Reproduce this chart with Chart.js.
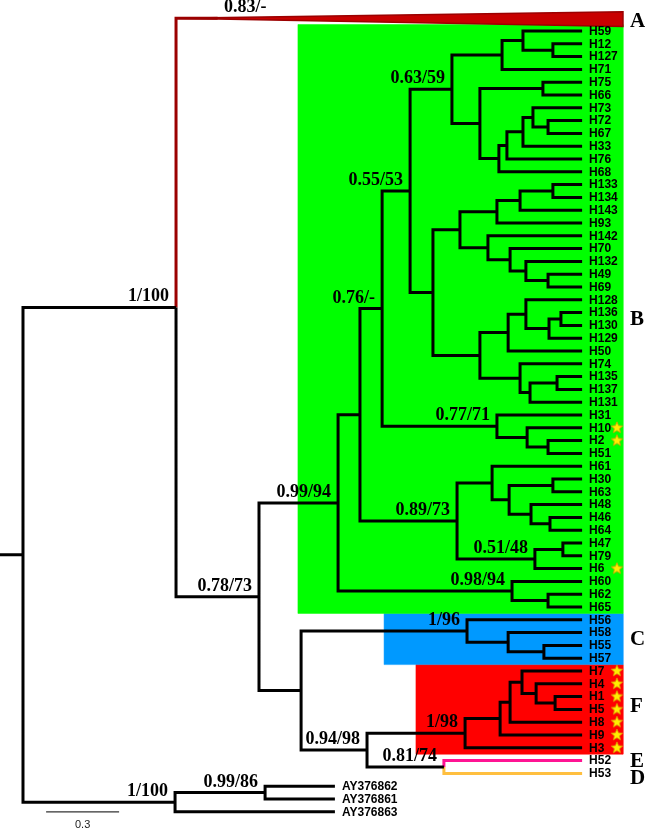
<!DOCTYPE html>
<html>
<head>
<meta charset="utf-8">
<script src="https://cdn.jsdelivr.net/npm/chart.js@4.4.1/dist/chart.umd.min.js"></script>
<style>
  body { margin: 0; background: #fff; }
  canvas { display: block; }
</style>
</head>
<body>
<canvas id="tree" width="645" height="830"></canvas>
<script>
// leaves top to bottom ("A" is the collapsed clade)
const leafNames = ["A", "H59", "H12", "H127", "H71", "H75", "H66", "H73", "H72", "H67", "H33", "H76", "H68",
  "H133", "H134", "H143", "H93", "H142", "H70", "H132", "H49", "H69", "H128", "H136", "H130", "H129", "H50",
  "H74", "H135", "H137", "H131", "H31", "H10", "H2", "H51", "H61", "H30", "H63", "H48", "H46", "H64",
  "H47", "H79", "H6", "H60", "H62", "H65", "H56", "H58", "H55", "H57", "H7", "H4", "H1", "H5", "H8", "H9",
  "H3", "H52", "H53", "AY376862", "AY376861", "AY376863"];

const tipDepth = 2.298;          // all H haplotypes
const outgroupTipDepth = 1.282;  // AY sequences
const cladeATipDepth = 0.80;     // start of collapsed clade A
const cladeAEndDepth = 2.466;

// [id, depth from root, child, child]
const nodes = [
  ["root", 0, "ingroup", "out"],
  ["ingroup", 0.629, "A", "n078"],
  ["n078", 0.970, "n099", "nCF"],
  ["n099", 1.295, "b360", "b512"],
  ["b360", 1.385, "b382", "b457"],
  ["b382", 1.476, "b410", "b497"],
  ["b410", 1.591, "b452", "b433"],
  ["b452", 1.763, "b502", "b480"],
  ["b502", 1.969, "b523", "H71"],
  ["b523", 2.055, "H59", "b553"],
  ["b553", 2.178, "H12", "H127"],
  ["b480", 1.878, "b543", "b499"],
  ["b543", 2.137, "H75", "H66"],
  ["b499", 1.956, "b507", "H68"],
  ["b507", 1.989, "b523b", "H76"],
  ["b523b", 2.055, "b533", "H33"],
  ["b533", 2.096, "H73", "b548"],
  ["b548", 2.158, "H72", "H67"],
  ["b433", 1.685, "b460", "b480b"],
  ["b460", 1.796, "b497b", "b488"],
  ["b497b", 1.948, "b520", "H93"],
  ["b520", 2.043, "b553b", "H143"],
  ["b553b", 2.178, "H133", "H134"],
  ["b488", 1.911, "H142", "b510"],
  ["b510", 2.002, "H70", "b526"],
  ["b526", 2.067, "H132", "b548b"],
  ["b548b", 2.158, "H49", "H69"],
  ["b480b", 1.878, "b508", "b520b"],
  ["b508", 1.994, "b526b", "H50"],
  ["b526b", 2.067, "H128", "b549"],
  ["b549", 2.162, "b561", "H129"],
  ["b561", 2.211, "H136", "H130"],
  ["b520b", 2.043, "H74", "b530"],
  ["b530", 2.084, "b557", "H131"],
  ["b557", 2.195, "H135", "H137"],
  ["b497", 1.948, "H31", "b527"],
  ["b527", 2.072, "H10", "b548c"],
  ["b548c", 2.158, "H2", "H51"],
  ["b457", 1.784, "b492", "b535"],
  ["b492", 1.928, "H61", "b509"],
  ["b509", 1.998, "b553c", "b531"],
  ["b553c", 2.178, "H30", "H63"],
  ["b531", 2.088, "H48", "b550"],
  ["b550", 2.166, "H46", "H64"],
  ["b535", 2.104, "b563", "H6"],
  ["b563", 2.219, "H47", "H79"],
  ["b512", 2.010, "H60", "b548d"],
  ["b548d", 2.158, "H62", "H65"],
  ["nCF", 1.143, "c467", "n367"],
  ["c467", 1.825, "H56", "c508"],
  ["c508", 1.994, "H58", "c544"],
  ["c544", 2.141, "H55", "H57"],
  ["n367", 1.414, "f465", "e444"],
  ["f465", 1.817, "f500", "H3"],
  ["f500", 1.961, "f510", "H9"],
  ["f510", 2.002, "f522", "H8"],
  ["f522", 2.051, "H7", "f536"],
  ["f536", 2.109, "H4", "f555"],
  ["f555", 2.187, "H1", "H5"],
  ["e444", 1.730, "H52", "H53"],
  ["out", 0.625, "o265", "AY376863"],
  ["o265", 0.995, "AY376862", "AY376861"]
];

// [posterior/bootstrap, node, optional anchor depth]
const supports = [
  ["0.83/-", "A", 1.03],
  ["1/100", "ingroup"], ["0.78/73", "n078"], ["0.99/94", "n099"],
  ["0.76/-", "b382"], ["0.55/53", "b410"], ["0.63/59", "b452"],
  ["0.77/71", "b497"], ["0.89/73", "b457"], ["0.51/48", "b535"],
  ["0.98/94", "b512"], ["1/96", "c467"], ["1/98", "f465"],
  ["0.94/98", "n367"], ["0.81/74", "e444"],
  ["1/100", "out"], ["0.99/86", "o265"]
];

// [colour, left depth, first leaf, last leaf]
const cladeBoxes = [
  ["#00ff00", 1.130, "H59", "H65"],
  ["#0099ff", 1.484, "H56", "H57"],
  ["#ff0000", 1.615, "H7", "H3"]
];
// [letter, first leaf, last leaf, row shift]
const cladeLetters = [
  ["A", "A", "A", 0.2], ["B", "H59", "H65", 0], ["C", "H56", "H57", 0],
  ["F", "H7", "H3", -0.3], ["E", "H52", "H52", 0], ["D", "H53", "H53", 0.3]
];
const branchColors = { A: "#9b0000", H52: "#ff1493", H53: "#ffbf3f" };
const starLeaves = ["H10", "H2", "H6", "H7", "H4", "H1", "H5", "H8", "H9", "H3"];
const starDepth = 2.441;
const scaleBar = { start: 0.095, length: 0.3, row: 62, label: "0.3" };

// ---- layout from the data ----
const nodeById = {};
nodes.forEach(n => { nodeById[n[0]] = n; });
const row = name => leafNames.indexOf(name);

function leafDepth(name) {
  if (name === "A") return cladeATipDepth;
  if (name.startsWith("AY")) return outgroupTipDepth;
  return tipDepth;
}

function place(id) {
  const n = nodeById[id];
  if (!n) return { x: leafDepth(id), y: row(id) };
  const a = place(n[2]), b = place(n[3]);
  return { x: n[1], y: (a.y + b.y) / 2 };
}

const xMin = -0.0945, xMax = 2.5565;
const blackPath = [], colorPaths = {};
const rootPos = place("root");
blackPath.push({ x: xMin, y: rootPos.y }, { x: 0, y: rootPos.y }, { x: 0, y: null });

nodes.forEach(n => {
  const p = place(n[0]);
  [n[2], n[3]].forEach(child => {
    const c = place(child);
    const seg = [{ x: p.x, y: p.y }, { x: p.x, y: c.y }, { x: c.x, y: c.y }, { x: c.x, y: null }];
    if (branchColors[child]) {
      (colorPaths[child] = colorPaths[child] || []).push(...seg);
    } else {
      blackPath.push(...seg);
    }
  });
});

function starImage(r) {
  const c = document.createElement("canvas");
  const s = Math.ceil(r * 2 + 2);
  c.width = c.height = s;
  const g = c.getContext("2d");
  g.beginPath();
  for (let i = 0; i < 10; i++) {
    const rad = i % 2 ? r * 0.45 : r;
    const a = -Math.PI / 2 + i * Math.PI / 5;
    g.lineTo(s / 2 + rad * Math.cos(a), s / 2 + rad * Math.sin(a));
  }
  g.closePath();
  g.fillStyle = "#ffee00";
  g.fill();
  g.strokeStyle = "#d99a00";
  g.lineWidth = 0.8;
  g.stroke();
  return c;
}

const datasets = [];
datasets.push({
  data: starLeaves.map(n => ({ x: starDepth, y: row(n) })),
  pointStyle: starImage(6), pointRadius: 5, showLine: false
});
datasets.push({
  data: blackPath, showLine: true, borderColor: "#000", borderWidth: 3,
  pointRadius: 0, borderJoinStyle: "miter", borderCapStyle: "butt", spanGaps: false
});
Object.keys(colorPaths).forEach(k => {
  datasets.push({
    data: colorPaths[k], showLine: true, borderColor: branchColors[k], borderWidth: 3,
    pointRadius: 0, borderJoinStyle: "miter", spanGaps: false
  });
});
datasets.push({
  data: [
    { x: scaleBar.start, y: scaleBar.row },
    { x: scaleBar.start + scaleBar.length, y: scaleBar.row }
  ],
  showLine: true, borderColor: "#333", borderWidth: 1.2, pointRadius: 0
});
// collapsed clade A wedge
const aRow = row("A");
datasets.push({
  data: [
    { x: place("ingroup").x, y: aRow },
    { x: cladeAEndDepth, y: aRow - 0.5 },
    { x: cladeAEndDepth, y: aRow + 0.65 },
    { x: place("ingroup").x, y: aRow }
  ],
  showLine: true, fill: "shape", backgroundColor: "#c80000", borderColor: "#9b0000",
  borderWidth: 1.5, pointRadius: 0, borderJoinStyle: "miter"
});
cladeBoxes.forEach(b => {
  const top = row(b[2]) - 0.5, bottom = row(b[3]) + 0.5;
  datasets.push({
    data: [
      { x: b[1], y: top }, { x: cladeAEndDepth, y: top },
      { x: cladeAEndDepth, y: bottom }, { x: b[1], y: bottom }, { x: b[1], y: top }
    ],
    showLine: true, fill: "shape", backgroundColor: b[0], borderColor: b[0],
    borderWidth: 0.5, pointRadius: 0
  });
});

const textPlugin = {
  id: "treeText",
  afterDatasetsDraw(chart) {
    const { ctx } = chart;
    const xs = chart.scales.x, ys = chart.scales.y;
    ctx.save();
    // tip labels
    ctx.font = "bold 12px 'Liberation Sans', Arial, sans-serif";
    ctx.fillStyle = "#000";
    ctx.textAlign = "left";
    ctx.textBaseline = "middle";
    leafNames.forEach(name => {
      if (name === "A") return;
      ctx.fillText(name, xs.getPixelForValue(leafDepth(name)) + 7, ys.getPixelForValue(row(name)) + 0.5);
    });
    // support values
    ctx.font = "bold 18px 'Liberation Serif', 'Times New Roman', serif";
    ctx.textAlign = "right";
    ctx.textBaseline = "alphabetic";
    supports.forEach(s => {
      const p = place(s[1]);
      const x = s[2] !== undefined ? s[2] : p.x;
      ctx.fillText(s[0], xs.getPixelForValue(x) - 7, ys.getPixelForValue(p.y) - 6);
    });
    // clade letters
    ctx.font = "bold 21px 'Liberation Serif', 'Times New Roman', serif";
    ctx.textAlign = "left";
    ctx.textBaseline = "middle";
    cladeLetters.forEach(c => {
      const y = (row(c[1]) + row(c[2])) / 2 + c[3];
      ctx.fillText(c[0], xs.getPixelForValue(cladeAEndDepth) + 7, ys.getPixelForValue(y) + 1);
    });
    // scale bar label
    ctx.font = "11px 'Liberation Sans', Arial, sans-serif";
    ctx.fillStyle = "#222";
    ctx.textAlign = "center";
    ctx.textBaseline = "top";
    ctx.fillText(scaleBar.label, xs.getPixelForValue(scaleBar.start + scaleBar.length / 2),
      ys.getPixelForValue(scaleBar.row) + 8);
    ctx.restore();
  }
};

new Chart(document.getElementById("tree").getContext("2d"), {
  type: "scatter",
  data: { datasets },
  options: {
    responsive: false,
    animation: false,
    devicePixelRatio: 1,
    layout: { padding: 0, autoPadding: false },
    scales: {
      x: { type: "linear", min: xMin, max: xMax, display: false },
      y: { type: "linear", min: -1.42, max: 63.42, reverse: true, display: false }
    },
    plugins: { legend: { display: false }, tooltip: { enabled: false } }
  },
  plugins: [textPlugin]
});
</script>
</body>
</html>
